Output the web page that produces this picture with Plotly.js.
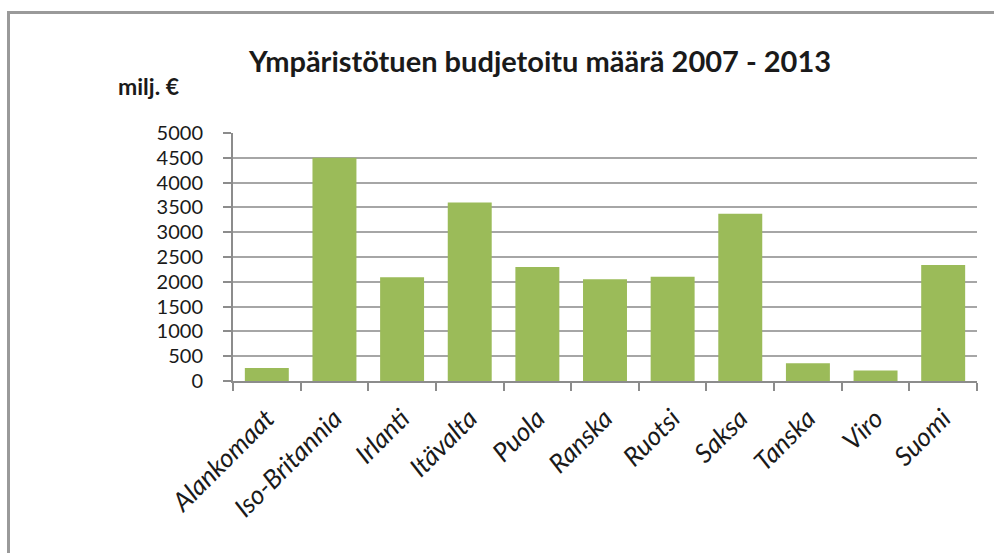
<!DOCTYPE html>
<html>
<head>
<meta charset="utf-8">
<script src="https://cdn.plot.ly/plotly-3.0.1.min.js"></script>
<style>
  html, body { margin: 0; padding: 0; background: #fff; }
  #wrap { position: relative; width: 994px; height: 553px; overflow: hidden; }
  #chart { width: 994px; height: 553px; }
  #frame { position: absolute; left: 7px; top: 11px; width: 1000px; height: 600px;
           border-left: 3px solid #9a9a9a; border-top: 3px solid #9a9a9a; pointer-events: none; }
</style>
</head>
<body>
<div id="wrap">
  <div id="chart"></div>
  <div id="frame"></div>
</div>
<script>
const countries = ["Alankomaat", "Iso-Britannia", "Irlanti", "Itävalta", "Puola", "Ranska", "Ruotsi", "Saksa", "Tanska", "Viro", "Suomi"];
const budget = [260, 4500, 2090, 3600, 2300, 2050, 2100, 3370, 360, 210, 2340];
const yTicks = [0, 500, 1000, 1500, 2000, 2500, 3000, 3500, 4000, 4500, 5000];
const titleText = "Ympäristötuen budjetoitu määrä 2007 - 2013";
const unitText = "milj. €";

const fontFam = "Lato, 'Open Sans', sans-serif";

const trace = {
  type: "bar",
  x: countries,
  y: budget,
  marker: { color: "#9bbb59" },
  width: 0.65,
  hoverinfo: "x+y"
};

const layout = {
  width: 994,
  height: 553,
  margin: { l: 233, r: 17, t: 133, b: 172 },
  paper_bgcolor: "#ffffff",
  plot_bgcolor: "#ffffff",
  showlegend: false,
  title: {
    text: "<b>" + titleText + "</b>",
    font: { family: fontFam, size: 29, color: "#1a1a1a" },
    xref: "container", x: 540 / 994, xanchor: "center",
    yref: "container", y: 1 - 62 / 553, yanchor: "middle"
  },
  xaxis: {
    type: "category",
    tickangle: -45,
    tickson: "boundaries",
    ticks: "outside",
    ticklen: 8,
    tickcolor: "#8c8c8c",
    tickwidth: 2,
    showline: true,
    linecolor: "#8c8c8c",
    linewidth: 2,
    showgrid: false,
    ticklabelstandoff: 10,
    tickfont: { family: fontFam, size: 26, color: "#1a1a1a", style: "italic" }
  },
  yaxis: {
    range: [0, 5000],
    tickvals: yTicks,
    ticktext: yTicks.map(String),
    ticks: "outside",
    ticklen: 8,
    tickcolor: "#8c8c8c",
    tickwidth: 2,
    showline: true,
    linecolor: "#8c8c8c",
    linewidth: 2,
    showgrid: true,
    gridcolor: "#a6a6a6",
    gridwidth: 2,
    zeroline: false,
    ticklabelstandoff: 16,
    tickfont: { family: fontFam, size: 20, color: "#1a1a1a" }
  },
  annotations: [{
    text: "<b>" + unitText + "</b>",
    xref: "paper", yref: "paper",
    x: (116 - 233) / 744, xanchor: "left",
    y: (381 - 86) / 248, yanchor: "middle",
    showarrow: false,
    font: { family: fontFam, size: 23, color: "#1a1a1a" }
  }]
};

Plotly.newPlot("chart", [trace], layout, { displayModeBar: false, staticPlot: true });
</script>
</body>
</html>
